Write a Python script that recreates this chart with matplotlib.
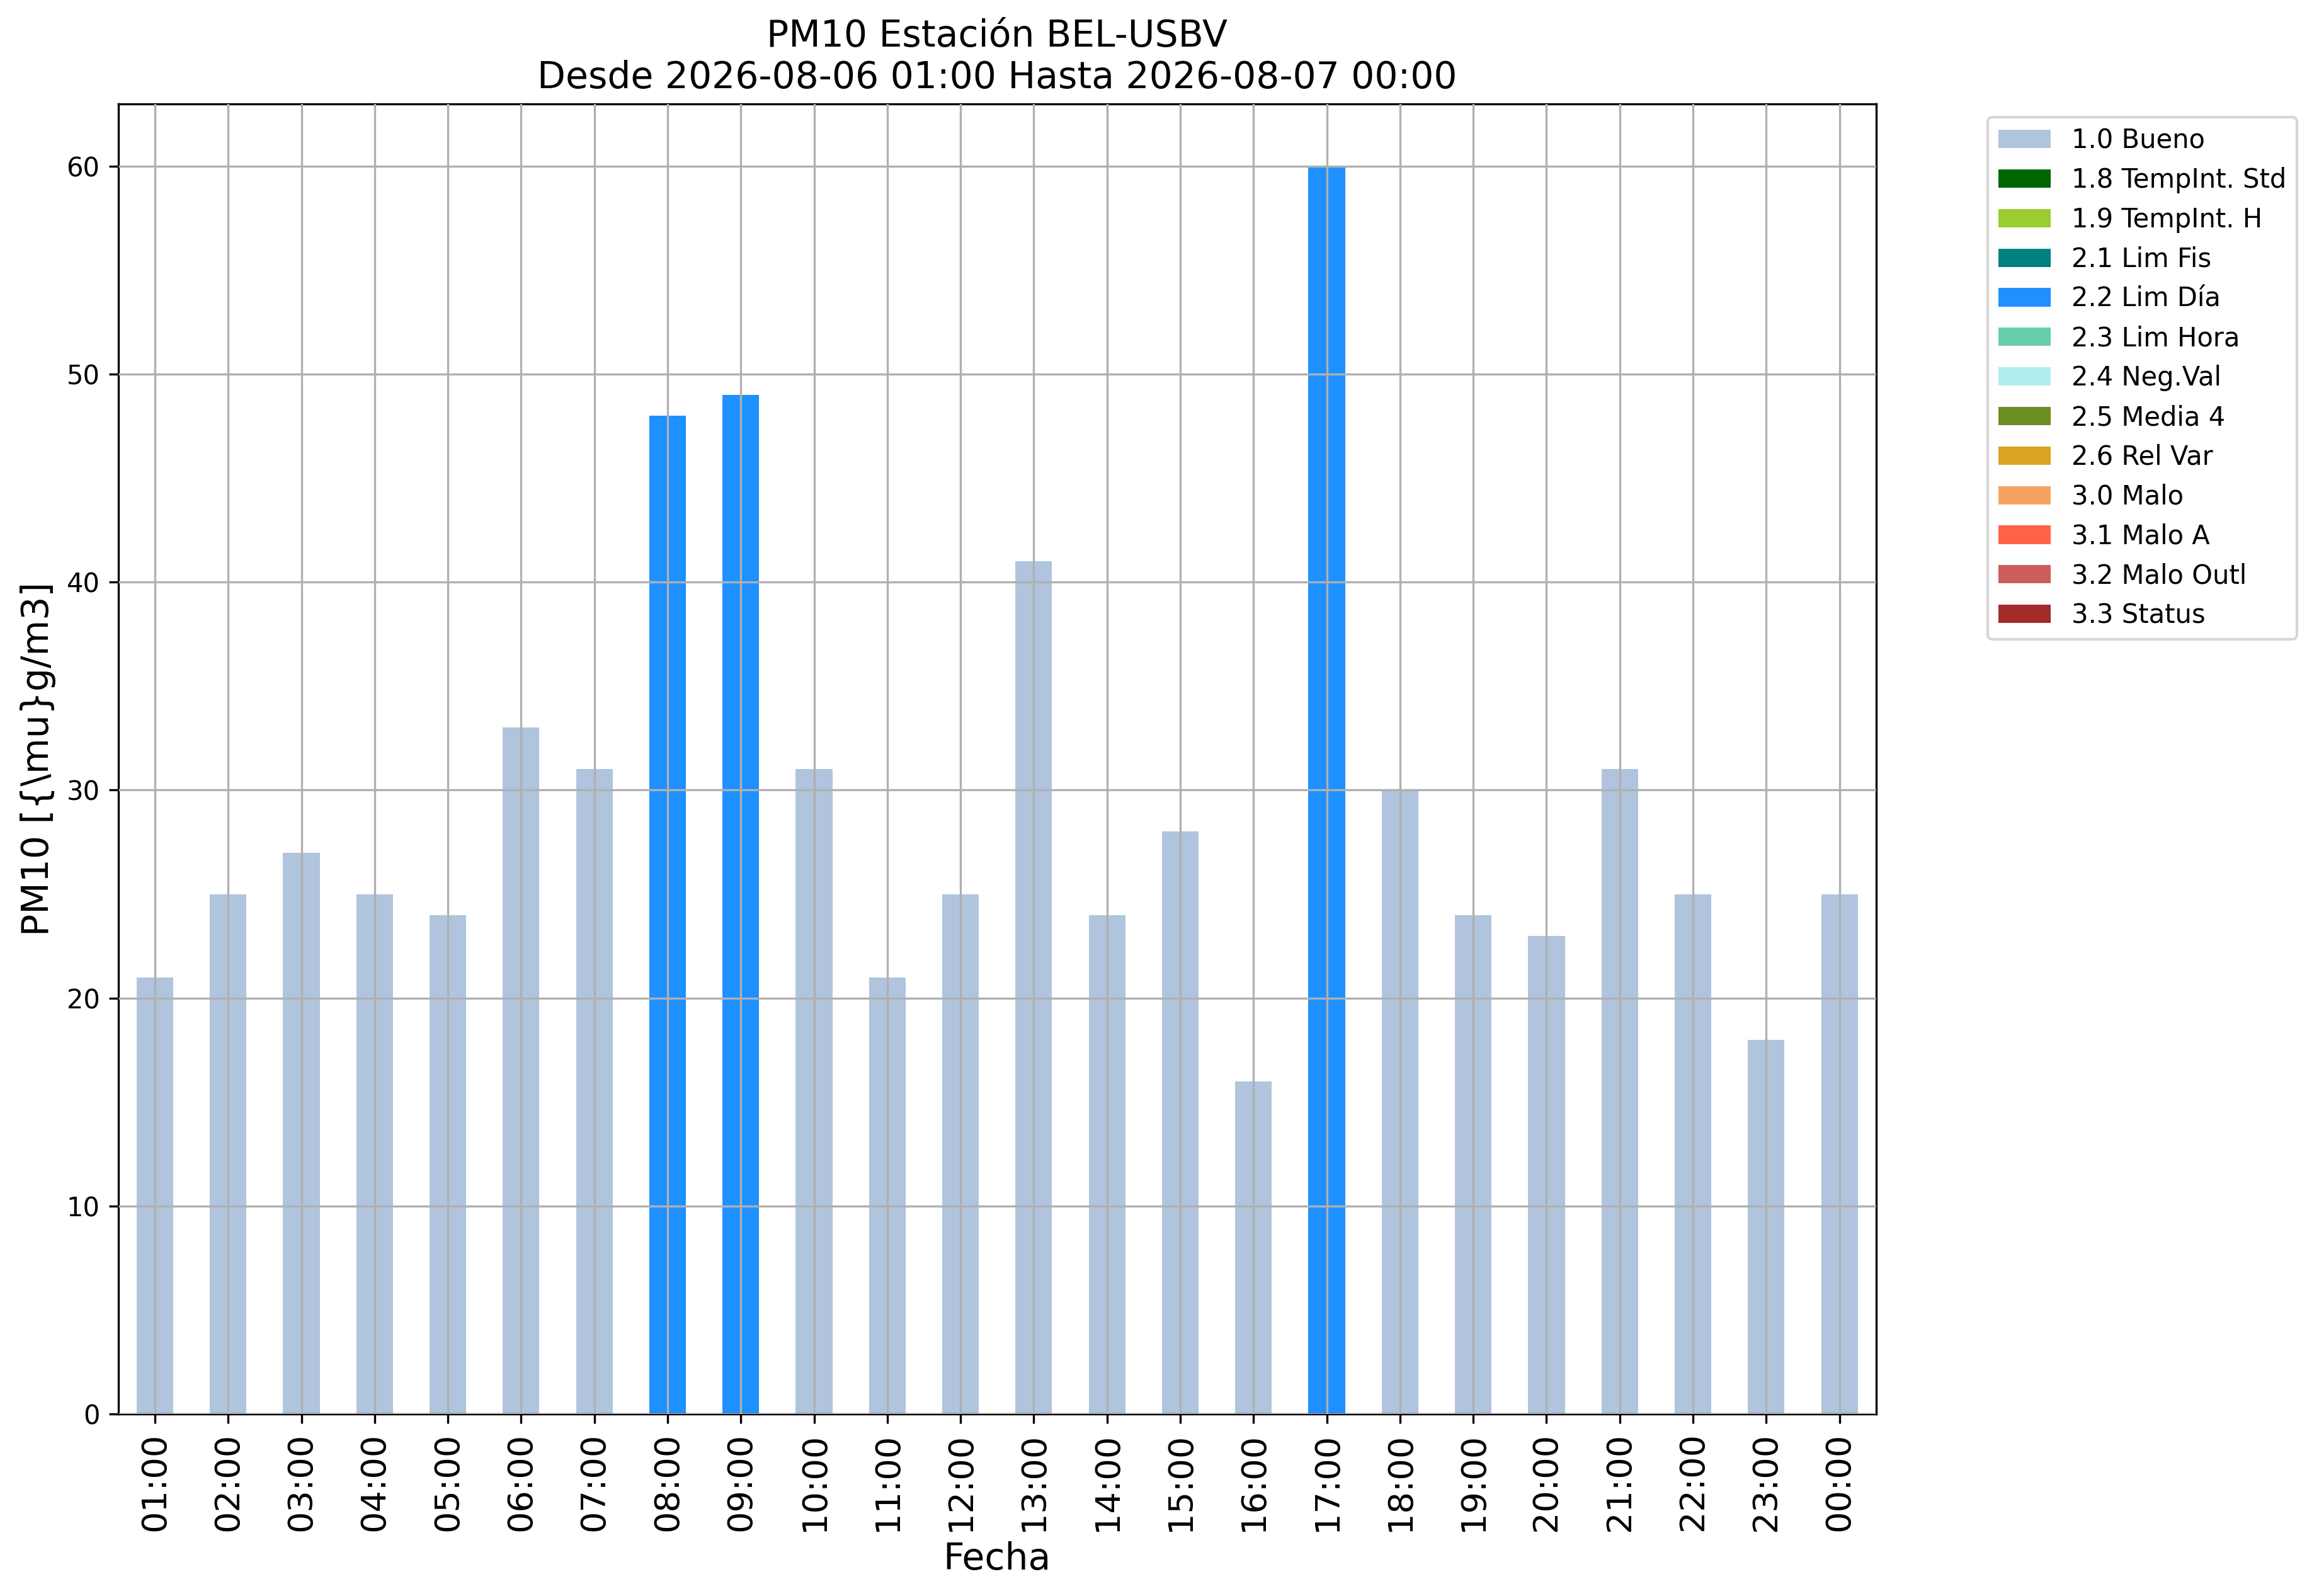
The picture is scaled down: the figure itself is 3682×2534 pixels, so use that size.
import numpy as np
from matplotlib import pyplot as plt

horas = ["01:00", "02:00", "03:00", "04:00", "05:00", "06:00", "07:00", "08:00",
         "09:00", "10:00", "11:00", "12:00", "13:00", "14:00", "15:00", "16:00",
         "17:00", "18:00", "19:00", "20:00", "21:00", "22:00", "23:00", "00:00"]

etiquetas = ["1.0 Bueno", "1.8 TempInt. Std", "1.9 TempInt. H", "2.1 Lim Fis",
             "2.2 Lim Día", "2.3 Lim Hora", "2.4 Neg.Val", "2.5 Media 4",
             "2.6 Rel Var", "3.0 Malo", "3.1 Malo A", "3.2 Malo Outl", "3.3 Status"]

colores = ["lightsteelblue", "darkgreen", "yellowgreen", "teal", "dodgerblue",
           "mediumaquamarine", "paleturquoise", "olivedrab", "goldenrod",
           "sandybrown", "tomato", "indianred", "brown"]

bueno = [21, 25, 27, 25, 24, 33, 31, 0, 0, 31, 21, 25, 41, 24, 28, 16,
         0, 30, 24, 23, 31, 25, 18, 25]
lim_dia = [0, 0, 0, 0, 0, 0, 0, 48, 49, 0, 0, 0, 0, 0, 0, 0,
           60, 0, 0, 0, 0, 0, 0, 0]
vacio = [0] * len(horas)

series = [bueno, vacio, vacio, vacio, lim_dia, vacio, vacio, vacio,
          vacio, vacio, vacio, vacio, vacio]

fig = plt.figure(figsize=(3682 / 300, 2534 / 300), dpi=300)
ax = fig.add_axes([0.051, 0.114, 0.758, 0.821])

x = np.arange(len(horas))
base = np.zeros(len(horas))
for vals, lab, col in zip(series, etiquetas, colores):
    ax.bar(x, vals, width=0.5, bottom=base, color=col, label=lab)
    base = base + np.array(vals)

ax.set_axisbelow(False)
ax.grid(True, color="#b0b0b0", linewidth=0.8)
ax.set_xlim(-0.5, len(horas) - 0.5)
ax.set_ylim(0, base.max() * 1.05)
ax.set_xticks(x)
ax.set_xticklabels(horas, rotation=90, fontsize=13)
ax.tick_params(axis="y", labelsize=10)
ax.set_xlabel("Fecha", fontsize=14)
ax.set_ylabel("PM10 [{\\mu}g/m3]", fontsize=14)
ax.set_title("PM10 Estación BEL-USBV\nDesde 2026-08-06 01:00 Hasta 2026-08-07 00:00", fontsize=14)
ax.legend(bbox_to_anchor=(1.056, 1), loc="upper left", fontsize=10)

fig.savefig("out.png", dpi=300)
